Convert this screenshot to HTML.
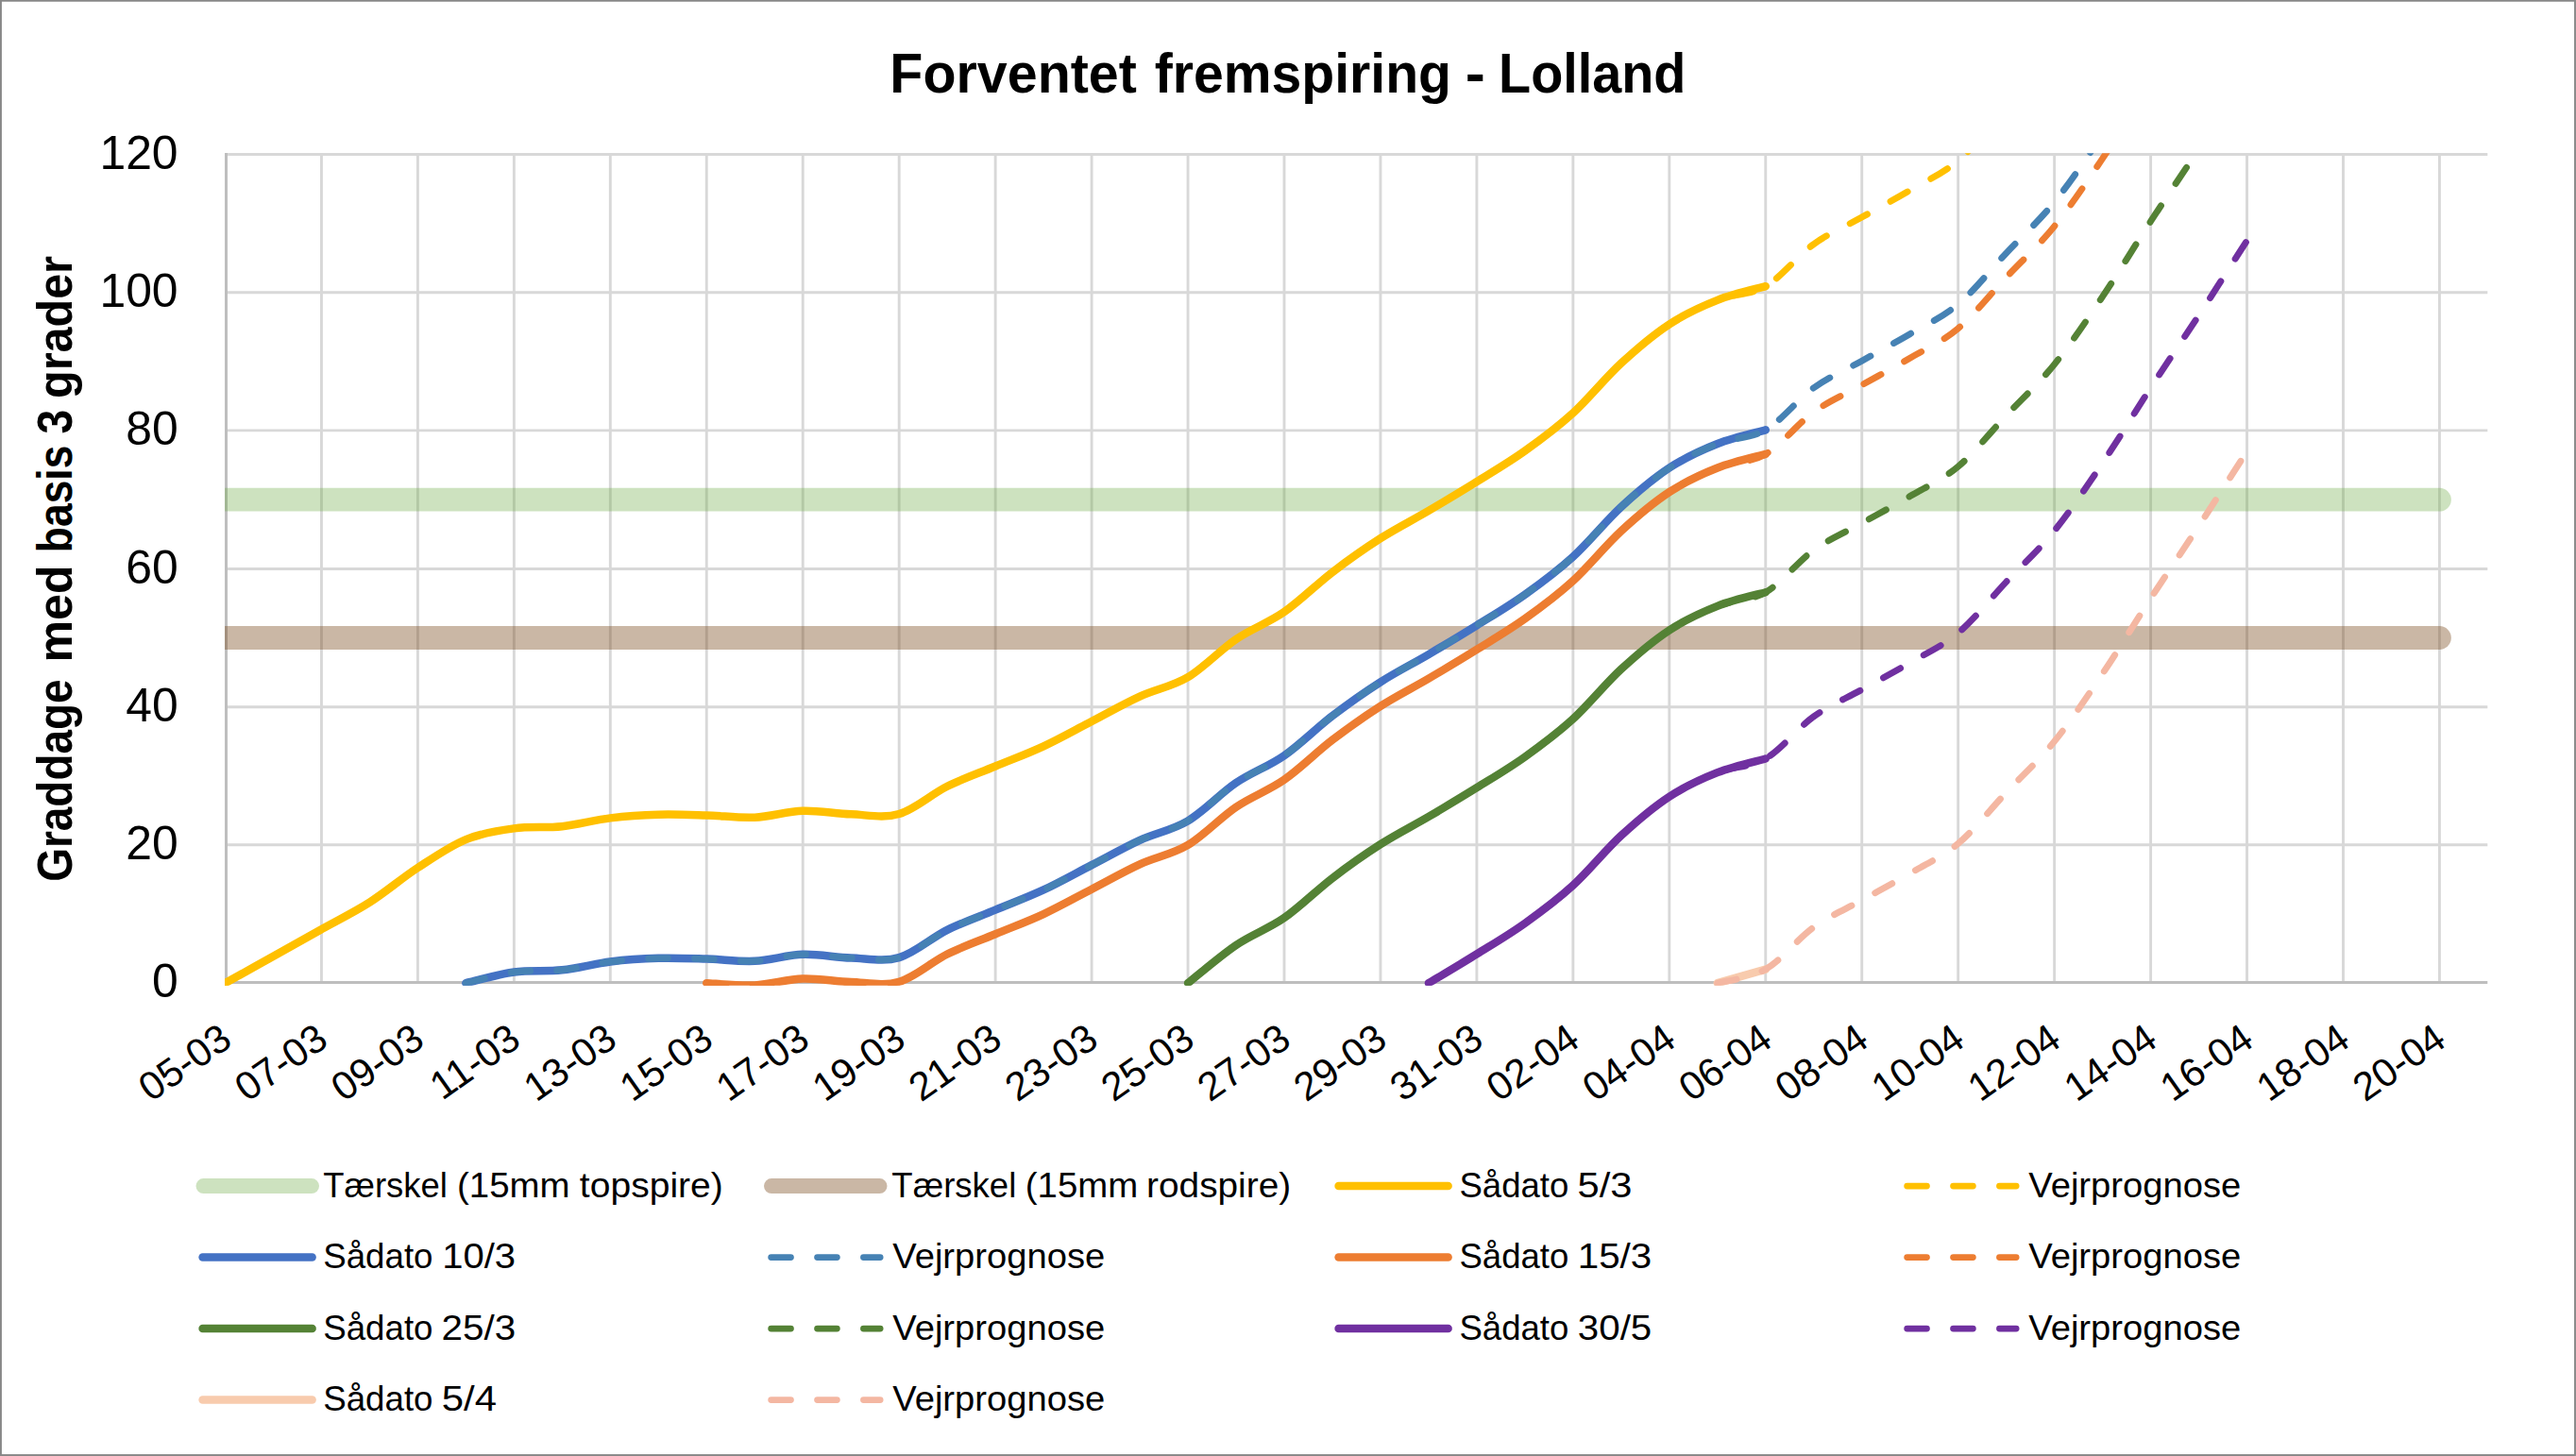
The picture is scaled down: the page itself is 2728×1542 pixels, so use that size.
<!DOCTYPE html>
<html lang="da"><head><meta charset="utf-8"><title>Forventet fremspiring - Lolland</title>
<style>html,body{margin:0;padding:0;background:#fff;}body{width:2728px;height:1542px;overflow:hidden;}svg{display:block;}text{font-family:"Liberation Sans",sans-serif;fill:#000;}</style></head><body>
<svg xmlns="http://www.w3.org/2000/svg" width="2728" height="1542" viewBox="0 0 2728 1542">
<rect x="0" y="0" width="2728" height="1542" fill="#fff"/>
<rect x="0.95" y="0.8" width="2726.05" height="1540.25" fill="none" stroke="#878787" stroke-width="1.9"/>
<defs><clipPath id="pc"><rect x="238.00" y="162.30" width="2402.00" height="881.50"/></clipPath></defs>
<path d="M238.05,163.50H2634.30M238.05,309.75H2634.30M238.05,455.90H2634.30M238.05,602.50H2634.30M238.05,748.80H2634.30M238.05,894.80H2634.30M340.45,162.05V1040.50M442.41,162.05V1040.50M544.36,162.05V1040.50M646.32,162.05V1040.50M748.27,162.05V1040.50M850.22,162.05V1040.50M952.18,162.05V1040.50M1054.13,162.05V1040.50M1156.09,162.05V1040.50M1258.04,162.05V1040.50M1359.99,162.05V1040.50M1461.95,162.05V1040.50M1563.90,162.05V1040.50M1665.86,162.05V1040.50M1767.81,162.05V1040.50M1869.76,162.05V1040.50M1971.72,162.05V1040.50M2073.67,162.05V1040.50M2175.63,162.05V1040.50M2277.58,162.05V1040.50M2379.53,162.05V1040.50M2481.49,162.05V1040.50M2583.44,162.05V1040.50" fill="none" stroke="#D8D8D8" stroke-width="2.9"/>
<path d="M239.50,162.05V1042.00M238.00,1040.50H2634.30" fill="none" stroke="#BEBEBE" stroke-width="3"/>
<g clip-path="url(#pc)" fill="none" stroke-linecap="round" stroke-linejoin="round">
<path d="M238.50,529.21H2583.44" stroke="#70AD47" stroke-opacity="0.35" stroke-width="24.8"/>
<path d="M238.50,675.49H2583.44" stroke="#7B4A1E" stroke-opacity="0.4" stroke-width="24.8"/>
<path d="M238.50,1041.20C247.00,1036.45 272.48,1022.18 289.48,1012.67C306.47,1003.17 323.46,993.66 340.45,984.15C357.45,974.64 374.44,966.47 391.43,955.62C408.42,944.77 425.42,930.15 442.41,919.05C459.40,907.96 476.39,896.01 493.38,889.06C510.38,882.12 527.37,879.68 544.36,877.36C561.35,875.05 578.35,877.00 595.34,875.17C612.33,873.34 629.32,868.46 646.32,866.39C663.31,864.32 680.30,863.22 697.29,862.73C714.29,862.25 731.28,862.98 748.27,863.46C765.26,863.95 782.25,866.45 799.25,865.66C816.24,864.87 833.23,859.26 850.22,858.71C867.22,858.16 884.21,861.82 901.20,862.37C918.19,862.92 935.19,866.94 952.18,862.00C969.17,857.07 986.16,841.16 1003.15,832.75C1020.15,824.33 1037.14,818.60 1054.13,811.53C1071.12,804.46 1088.12,798.25 1105.11,790.32C1122.10,782.40 1139.09,772.77 1156.09,763.99C1173.08,755.21 1190.07,745.46 1207.06,737.66C1224.06,729.86 1241.05,727.30 1258.04,717.18C1275.03,707.06 1292.02,688.47 1309.02,676.95C1326.01,665.43 1343.00,659.89 1359.99,648.06C1376.99,636.24 1393.98,618.99 1410.97,606.01C1427.96,593.02 1444.96,581.01 1461.95,570.17C1478.94,559.32 1495.93,550.90 1512.92,540.91C1529.92,530.91 1546.91,520.75 1563.90,510.19C1580.89,499.63 1597.89,489.70 1614.88,477.57C1631.87,465.44 1648.86,452.89 1665.86,437.41C1682.85,421.93 1699.84,400.34 1716.83,384.68C1733.83,369.01 1750.82,354.57 1767.81,343.43C1784.80,332.28 1801.79,324.53 1818.79,317.83C1835.78,311.12 1861.27,305.64 1869.76,303.20" stroke="#FFC000" stroke-width="8.5"/>
<path d="M238.50,1041.20C247.00,1036.45 272.48,1022.18 289.48,1012.67C306.47,1003.17 323.46,993.66 340.45,984.15C357.45,974.64 374.44,966.47 391.43,955.62C408.42,944.77 425.42,930.15 442.41,919.05C459.40,907.96 476.39,896.01 493.38,889.06C510.38,882.12 527.37,879.68 544.36,877.36C561.35,875.05 578.35,877.00 595.34,875.17C612.33,873.34 629.32,868.46 646.32,866.39C663.31,864.32 680.30,863.22 697.29,862.73C714.29,862.25 731.28,862.98 748.27,863.46C765.26,863.95 782.25,866.45 799.25,865.66C816.24,864.87 833.23,859.26 850.22,858.71C867.22,858.16 884.21,861.82 901.20,862.37C918.19,862.92 935.19,866.94 952.18,862.00C969.17,857.07 986.16,841.16 1003.15,832.75C1020.15,824.33 1037.14,818.60 1054.13,811.53C1071.12,804.46 1088.12,798.25 1105.11,790.32C1122.10,782.40 1139.09,772.77 1156.09,763.99C1173.08,755.21 1190.07,745.46 1207.06,737.66C1224.06,729.86 1241.05,727.30 1258.04,717.18C1275.03,707.06 1292.02,688.47 1309.02,676.95C1326.01,665.43 1343.00,659.89 1359.99,648.06C1376.99,636.24 1393.98,618.99 1410.97,606.01C1427.96,593.02 1444.96,581.01 1461.95,570.17C1478.94,559.32 1495.93,550.90 1512.92,540.91C1529.92,530.91 1546.91,520.75 1563.90,510.19C1580.89,499.63 1597.89,489.70 1614.88,477.57C1631.87,465.44 1648.86,452.89 1665.86,437.41C1682.85,421.93 1699.84,400.34 1716.83,384.68C1733.83,369.01 1750.82,354.57 1767.81,343.43C1784.80,332.28 1801.79,324.53 1818.79,317.83C1835.78,311.12 1852.77,313.07 1869.76,303.20C1886.76,293.32 1903.75,270.77 1920.74,258.58C1937.73,246.39 1954.73,239.56 1971.72,230.06C1988.71,220.55 2005.70,211.53 2022.69,201.53C2039.69,191.53 2056.68,184.34 2073.67,170.08C2090.66,155.82 2107.66,134.00 2124.65,115.95C2141.64,97.91 2158.63,82.80 2175.63,61.83C2192.62,40.86 2209.61,15.38 2226.60,-9.85C2243.60,-35.08 2260.59,-63.49 2277.58,-89.58C2294.57,-115.66 2311.56,-140.41 2328.56,-166.37C2345.55,-192.34 2371.04,-232.20 2379.53,-245.37" stroke="#FFC000" stroke-width="6.9" stroke-dasharray="20.7 28.2" stroke-dashoffset="0"/>
<path d="M493.38,1041.20C501.88,1039.25 527.37,1031.81 544.36,1029.50C561.35,1027.18 578.35,1029.13 595.34,1027.30C612.33,1025.47 629.32,1020.60 646.32,1018.53C663.31,1016.45 680.30,1015.36 697.29,1014.87C714.29,1014.38 731.28,1015.11 748.27,1015.60C765.26,1016.09 782.25,1018.59 799.25,1017.79C816.24,1017.00 833.23,1011.39 850.22,1010.85C867.22,1010.30 884.21,1013.95 901.20,1014.50C918.19,1015.05 935.19,1019.07 952.18,1014.14C969.17,1009.20 986.16,993.29 1003.15,984.88C1020.15,976.47 1037.14,970.74 1054.13,963.67C1071.12,956.60 1088.12,950.38 1105.11,942.46C1122.10,934.53 1139.09,924.90 1156.09,916.13C1173.08,907.35 1190.07,897.60 1207.06,889.80C1224.06,881.99 1241.05,879.43 1258.04,869.32C1275.03,859.20 1292.02,840.61 1309.02,829.09C1326.01,817.57 1343.00,812.02 1359.99,800.20C1376.99,788.37 1393.98,771.12 1410.97,758.14C1427.96,745.16 1444.96,733.15 1461.95,722.30C1478.94,711.45 1495.93,703.04 1512.92,693.04C1529.92,683.05 1546.91,672.88 1563.90,662.32C1580.89,651.77 1597.89,641.83 1614.88,629.70C1631.87,617.57 1648.86,605.03 1665.86,589.55C1682.85,574.07 1699.84,552.48 1716.83,536.81C1733.83,521.15 1750.82,506.70 1767.81,495.56C1784.80,484.42 1801.79,476.67 1818.79,469.96C1835.78,463.26 1861.27,457.77 1869.76,455.33" stroke="#4472C4" stroke-width="8.5"/>
<path d="M493.38,1041.20C501.88,1039.25 527.37,1031.81 544.36,1029.50C561.35,1027.18 578.35,1029.13 595.34,1027.30C612.33,1025.47 629.32,1020.60 646.32,1018.53C663.31,1016.45 680.30,1015.36 697.29,1014.87C714.29,1014.38 731.28,1015.11 748.27,1015.60C765.26,1016.09 782.25,1018.59 799.25,1017.79C816.24,1017.00 833.23,1011.39 850.22,1010.85C867.22,1010.30 884.21,1013.95 901.20,1014.50C918.19,1015.05 935.19,1019.07 952.18,1014.14C969.17,1009.20 986.16,993.29 1003.15,984.88C1020.15,976.47 1037.14,970.74 1054.13,963.67C1071.12,956.60 1088.12,950.38 1105.11,942.46C1122.10,934.53 1139.09,924.90 1156.09,916.13C1173.08,907.35 1190.07,897.60 1207.06,889.80C1224.06,881.99 1241.05,879.43 1258.04,869.32C1275.03,859.20 1292.02,840.61 1309.02,829.09C1326.01,817.57 1343.00,812.02 1359.99,800.20C1376.99,788.37 1393.98,771.12 1410.97,758.14C1427.96,745.16 1444.96,733.15 1461.95,722.30C1478.94,711.45 1495.93,703.04 1512.92,693.04C1529.92,683.05 1546.91,672.88 1563.90,662.32C1580.89,651.77 1597.89,641.83 1614.88,629.70C1631.87,617.57 1648.86,605.03 1665.86,589.55C1682.85,574.07 1699.84,552.48 1716.83,536.81C1733.83,521.15 1750.82,506.70 1767.81,495.56C1784.80,484.42 1801.79,476.67 1818.79,469.96C1835.78,463.26 1852.77,465.21 1869.76,455.33C1886.76,445.46 1903.75,422.91 1920.74,410.72C1937.73,398.53 1954.73,391.70 1971.72,382.19C1988.71,372.68 2005.70,363.66 2022.69,353.67C2039.69,343.67 2056.68,336.48 2073.67,322.21C2090.66,307.95 2107.66,286.13 2124.65,268.09C2141.64,250.05 2158.63,234.93 2175.63,213.96C2192.62,193.00 2209.61,167.52 2226.60,142.28C2243.60,117.05 2260.59,88.65 2277.58,62.56C2294.57,36.47 2311.56,11.73 2328.56,-14.24C2345.55,-40.20 2371.04,-80.07 2379.53,-93.23" stroke="#4682B4" stroke-width="6.9" stroke-dasharray="20.7 28.2" stroke-dashoffset="0"/>
<path d="M748.27,1041.20C756.77,1041.57 782.25,1044.19 799.25,1043.39C816.24,1042.60 833.23,1036.99 850.22,1036.45C867.22,1035.90 884.21,1039.55 901.20,1040.10C918.19,1040.65 935.19,1044.67 952.18,1039.74C969.17,1034.80 986.16,1018.89 1003.15,1010.48C1020.15,1002.07 1037.14,996.34 1054.13,989.27C1071.12,982.20 1088.12,975.98 1105.11,968.06C1122.10,960.13 1139.09,950.50 1156.09,941.73C1173.08,932.95 1190.07,923.20 1207.06,915.40C1224.06,907.59 1241.05,905.03 1258.04,894.92C1275.03,884.80 1292.02,866.21 1309.02,854.69C1326.01,843.17 1343.00,837.62 1359.99,825.80C1376.99,813.97 1393.98,796.72 1410.97,783.74C1427.96,770.76 1444.96,758.75 1461.95,747.90C1478.94,737.05 1495.93,728.64 1512.92,718.64C1529.92,708.65 1546.91,698.48 1563.90,687.92C1580.89,677.37 1597.89,667.43 1614.88,655.30C1631.87,643.17 1648.86,630.63 1665.86,615.15C1682.85,599.67 1699.84,578.08 1716.83,562.41C1733.83,546.75 1750.82,532.30 1767.81,521.16C1784.80,510.02 1801.79,502.27 1818.79,495.56C1835.78,488.86 1861.27,483.37 1869.76,480.93" stroke="#ED7D31" stroke-width="8.5"/>
<path d="M748.27,1041.20C756.77,1041.57 782.25,1044.19 799.25,1043.39C816.24,1042.60 833.23,1036.99 850.22,1036.45C867.22,1035.90 884.21,1039.55 901.20,1040.10C918.19,1040.65 935.19,1044.67 952.18,1039.74C969.17,1034.80 986.16,1018.89 1003.15,1010.48C1020.15,1002.07 1037.14,996.34 1054.13,989.27C1071.12,982.20 1088.12,975.98 1105.11,968.06C1122.10,960.13 1139.09,950.50 1156.09,941.73C1173.08,932.95 1190.07,923.20 1207.06,915.40C1224.06,907.59 1241.05,905.03 1258.04,894.92C1275.03,884.80 1292.02,866.21 1309.02,854.69C1326.01,843.17 1343.00,837.62 1359.99,825.80C1376.99,813.97 1393.98,796.72 1410.97,783.74C1427.96,770.76 1444.96,758.75 1461.95,747.90C1478.94,737.05 1495.93,728.64 1512.92,718.64C1529.92,708.65 1546.91,698.48 1563.90,687.92C1580.89,677.37 1597.89,667.43 1614.88,655.30C1631.87,643.17 1648.86,630.63 1665.86,615.15C1682.85,599.67 1699.84,578.08 1716.83,562.41C1733.83,546.75 1750.82,532.30 1767.81,521.16C1784.80,510.02 1801.79,502.27 1818.79,495.56C1835.78,488.86 1852.77,490.81 1869.76,480.93C1886.76,471.06 1903.75,448.51 1920.74,436.32C1937.73,424.13 1954.73,417.30 1971.72,407.79C1988.71,398.28 2005.70,389.26 2022.69,379.26C2039.69,369.27 2056.68,362.08 2073.67,347.81C2090.66,333.55 2107.66,311.73 2124.65,293.69C2141.64,275.65 2158.63,260.53 2175.63,239.56C2192.62,218.60 2209.61,193.12 2226.60,167.88C2243.60,142.65 2260.59,114.25 2277.58,88.16C2294.57,62.07 2311.56,37.33 2328.56,11.36C2345.55,-14.60 2371.04,-54.47 2379.53,-67.63" stroke="#ED7D31" stroke-width="6.9" stroke-dasharray="20.7 28.2" stroke-dashoffset="0"/>
<path d="M1258.04,1041.20C1266.54,1034.50 1292.02,1012.49 1309.02,1000.97C1326.01,989.45 1343.00,983.91 1359.99,972.08C1376.99,960.26 1393.98,943.01 1410.97,930.02C1427.96,917.04 1444.96,905.03 1461.95,894.18C1478.94,883.34 1495.93,874.92 1512.92,864.93C1529.92,854.93 1546.91,844.76 1563.90,834.21C1580.89,823.65 1597.89,813.72 1614.88,801.59C1631.87,789.46 1648.86,776.91 1665.86,761.43C1682.85,745.95 1699.84,724.36 1716.83,708.70C1733.83,693.03 1750.82,678.59 1767.81,667.44C1784.80,656.30 1801.79,648.55 1818.79,641.84C1835.78,635.14 1861.27,629.65 1869.76,627.22" stroke="#548235" stroke-width="8.5"/>
<path d="M1258.04,1041.20C1266.54,1034.50 1292.02,1012.49 1309.02,1000.97C1326.01,989.45 1343.00,983.91 1359.99,972.08C1376.99,960.26 1393.98,943.01 1410.97,930.02C1427.96,917.04 1444.96,905.03 1461.95,894.18C1478.94,883.34 1495.93,874.92 1512.92,864.93C1529.92,854.93 1546.91,844.76 1563.90,834.21C1580.89,823.65 1597.89,813.72 1614.88,801.59C1631.87,789.46 1648.86,776.91 1665.86,761.43C1682.85,745.95 1699.84,724.36 1716.83,708.70C1733.83,693.03 1750.82,678.59 1767.81,667.44C1784.80,656.30 1801.79,648.55 1818.79,641.84C1835.78,635.14 1852.77,637.09 1869.76,627.22C1886.76,617.34 1903.75,594.79 1920.74,582.60C1937.73,570.41 1954.73,563.58 1971.72,554.07C1988.71,544.57 2005.70,535.54 2022.69,525.55C2039.69,515.55 2056.68,508.36 2073.67,494.10C2090.66,479.84 2107.66,458.01 2124.65,439.97C2141.64,421.93 2158.63,406.82 2175.63,385.85C2192.62,364.88 2209.61,339.40 2226.60,314.17C2243.60,288.93 2260.59,260.53 2277.58,234.44C2294.57,208.36 2311.56,183.61 2328.56,157.64C2345.55,131.68 2371.04,91.82 2379.53,78.65" stroke="#548235" stroke-width="6.9" stroke-dasharray="20.7 28.2" stroke-dashoffset="0"/>
<path d="M1512.92,1041.20C1521.42,1036.08 1546.91,1021.04 1563.90,1010.48C1580.89,999.92 1597.89,989.99 1614.88,977.86C1631.87,965.73 1648.86,953.19 1665.86,937.70C1682.85,922.22 1699.84,900.63 1716.83,884.97C1733.83,869.30 1750.82,854.86 1767.81,843.72C1784.80,832.57 1801.79,824.82 1818.79,818.12C1835.78,811.41 1861.27,805.93 1869.76,803.49" stroke="#7030A0" stroke-width="8.5"/>
<path d="M1512.92,1041.20C1521.42,1036.08 1546.91,1021.04 1563.90,1010.48C1580.89,999.92 1597.89,989.99 1614.88,977.86C1631.87,965.73 1648.86,953.19 1665.86,937.70C1682.85,922.22 1699.84,900.63 1716.83,884.97C1733.83,869.30 1750.82,854.86 1767.81,843.72C1784.80,832.57 1801.79,824.82 1818.79,818.12C1835.78,811.41 1852.77,813.36 1869.76,803.49C1886.76,793.61 1903.75,771.06 1920.74,758.87C1937.73,746.68 1954.73,739.85 1971.72,730.35C1988.71,720.84 2005.70,711.82 2022.69,701.82C2039.69,691.83 2056.68,684.63 2073.67,670.37C2090.66,656.11 2107.66,634.29 2124.65,616.24C2141.64,598.20 2158.63,583.09 2175.63,562.12C2192.62,541.15 2209.61,515.67 2226.60,490.44C2243.60,465.21 2260.59,436.80 2277.58,410.72C2294.57,384.63 2311.56,359.88 2328.56,333.92C2345.55,307.95 2371.04,268.09 2379.53,254.92" stroke="#7030A0" stroke-width="6.9" stroke-dasharray="20.7 28.2" stroke-dashoffset="0"/>
<path d="M1818.79,1041.20C1827.28,1038.76 1861.27,1029.01 1869.76,1026.57" stroke="#F8CBAD" stroke-width="8.5"/>
<path d="M1818.79,1041.20C1827.28,1038.76 1852.77,1036.45 1869.76,1026.57C1886.76,1016.70 1903.75,994.15 1920.74,981.95C1937.73,969.76 1954.73,962.94 1971.72,953.43C1988.71,943.92 2005.70,934.90 2022.69,924.90C2039.69,914.91 2056.68,907.72 2073.67,893.45C2090.66,879.19 2107.66,857.37 2124.65,839.33C2141.64,821.29 2158.63,806.17 2175.63,785.20C2192.62,764.24 2209.61,738.76 2226.60,713.52C2243.60,688.29 2260.59,659.89 2277.58,633.80C2294.57,607.71 2311.56,582.97 2328.56,557.00C2345.55,531.03 2371.04,491.17 2379.53,478.01" stroke="#F4B7A2" stroke-width="6.9" stroke-dasharray="20.7 28.2" stroke-dashoffset="0"/>
</g>
<g aria-label="Forventet fremspiring - Lolland"><text x="942.37" y="98.10" font-size="60" font-weight="bold" textLength="261.46" lengthAdjust="spacingAndGlyphs">Forventet</text><text x="1222.65" y="98.10" font-size="60" font-weight="bold" textLength="314.32" lengthAdjust="spacingAndGlyphs">fremspiring</text><text x="1551.72" y="98.10" font-size="60" font-weight="bold" textLength="21.10" lengthAdjust="spacingAndGlyphs">-</text><text x="1587.08" y="98.10" font-size="60" font-weight="bold" textLength="198.29" lengthAdjust="spacingAndGlyphs">Lolland</text></g>
<g aria-label="Graddage med basis 3 grader"><text transform="translate(76.00,933.79) rotate(-90)" font-size="51.3" font-weight="bold" textLength="214.42" lengthAdjust="spacingAndGlyphs">Graddage</text><text transform="translate(76.00,701.52) rotate(-90)" font-size="51.3" font-weight="bold" textLength="103.02" lengthAdjust="spacingAndGlyphs">med</text><text transform="translate(76.00,585.13) rotate(-90)" font-size="51.3" font-weight="bold" textLength="113.52" lengthAdjust="spacingAndGlyphs">basis</text><text transform="translate(76.00,459.53) rotate(-90)" font-size="51.3" font-weight="bold" textLength="25.73" lengthAdjust="spacingAndGlyphs">3</text><text transform="translate(76.00,421.89) rotate(-90)" font-size="51.3" font-weight="bold" textLength="150.85" lengthAdjust="spacingAndGlyphs">grader</text></g>
<text x="105.43" y="178.60" font-size="49.5" textLength="83.13" lengthAdjust="spacingAndGlyphs">120</text>
<text x="105.43" y="324.85" font-size="49.5" textLength="83.13" lengthAdjust="spacingAndGlyphs">100</text>
<text x="133.36" y="471.00" font-size="49.5" textLength="55.42" lengthAdjust="spacingAndGlyphs">80</text>
<text x="133.36" y="617.60" font-size="49.5" textLength="55.42" lengthAdjust="spacingAndGlyphs">60</text>
<text x="133.36" y="763.90" font-size="49.5" textLength="55.42" lengthAdjust="spacingAndGlyphs">40</text>
<text x="133.36" y="909.90" font-size="49.5" textLength="55.42" lengthAdjust="spacingAndGlyphs">20</text>
<text x="161.03" y="1055.90" font-size="49.5" textLength="27.71" lengthAdjust="spacingAndGlyphs">0</text>
<text transform="translate(247.80,1106.20) rotate(-35)" x="0" y="0" text-anchor="end" font-size="42">05-03</text>
<text transform="translate(349.75,1106.20) rotate(-35)" x="0" y="0" text-anchor="end" font-size="42">07-03</text>
<text transform="translate(451.71,1106.20) rotate(-35)" x="0" y="0" text-anchor="end" font-size="42">09-03</text>
<text transform="translate(553.66,1106.20) rotate(-35)" x="0" y="0" text-anchor="end" font-size="42">11-03</text>
<text transform="translate(655.62,1106.20) rotate(-35)" x="0" y="0" text-anchor="end" font-size="42">13-03</text>
<text transform="translate(757.57,1106.20) rotate(-35)" x="0" y="0" text-anchor="end" font-size="42">15-03</text>
<text transform="translate(859.52,1106.20) rotate(-35)" x="0" y="0" text-anchor="end" font-size="42">17-03</text>
<text transform="translate(961.48,1106.20) rotate(-35)" x="0" y="0" text-anchor="end" font-size="42">19-03</text>
<text transform="translate(1063.43,1106.20) rotate(-35)" x="0" y="0" text-anchor="end" font-size="42">21-03</text>
<text transform="translate(1165.39,1106.20) rotate(-35)" x="0" y="0" text-anchor="end" font-size="42">23-03</text>
<text transform="translate(1267.34,1106.20) rotate(-35)" x="0" y="0" text-anchor="end" font-size="42">25-03</text>
<text transform="translate(1369.29,1106.20) rotate(-35)" x="0" y="0" text-anchor="end" font-size="42">27-03</text>
<text transform="translate(1471.25,1106.20) rotate(-35)" x="0" y="0" text-anchor="end" font-size="42">29-03</text>
<text transform="translate(1573.20,1106.20) rotate(-35)" x="0" y="0" text-anchor="end" font-size="42">31-03</text>
<text transform="translate(1675.16,1106.20) rotate(-35)" x="0" y="0" text-anchor="end" font-size="42">02-04</text>
<text transform="translate(1777.11,1106.20) rotate(-35)" x="0" y="0" text-anchor="end" font-size="42">04-04</text>
<text transform="translate(1879.06,1106.20) rotate(-35)" x="0" y="0" text-anchor="end" font-size="42">06-04</text>
<text transform="translate(1981.02,1106.20) rotate(-35)" x="0" y="0" text-anchor="end" font-size="42">08-04</text>
<text transform="translate(2082.97,1106.20) rotate(-35)" x="0" y="0" text-anchor="end" font-size="42">10-04</text>
<text transform="translate(2184.93,1106.20) rotate(-35)" x="0" y="0" text-anchor="end" font-size="42">12-04</text>
<text transform="translate(2286.88,1106.20) rotate(-35)" x="0" y="0" text-anchor="end" font-size="42">14-04</text>
<text transform="translate(2388.83,1106.20) rotate(-35)" x="0" y="0" text-anchor="end" font-size="42">16-04</text>
<text transform="translate(2490.79,1106.20) rotate(-35)" x="0" y="0" text-anchor="end" font-size="42">18-04</text>
<text transform="translate(2592.74,1106.20) rotate(-35)" x="0" y="0" text-anchor="end" font-size="42">20-04</text>
<g fill="none" stroke-linecap="round">
<path d="M215.50,1256.10h114.50" stroke="#70AD47" stroke-opacity="0.35" stroke-width="16"/>
<path d="M817.00,1256.10h114.50" stroke="#7B4A1E" stroke-opacity="0.4" stroke-width="16"/>
<path d="M1417.60,1256.10h116.00" stroke="#FFC000" stroke-width="8.5"/>
<path d="M2019.70,1256.10h115.40" stroke="#FFC000" stroke-width="6.9" stroke-dasharray="20.7 28.2"/>
<path d="M214.60,1331.60h116.00" stroke="#4472C4" stroke-width="8.5"/>
<path d="M816.70,1331.60h115.40" stroke="#4682B4" stroke-width="6.9" stroke-dasharray="20.7 28.2"/>
<path d="M1417.60,1331.60h116.00" stroke="#ED7D31" stroke-width="8.5"/>
<path d="M2019.70,1331.60h115.40" stroke="#ED7D31" stroke-width="6.9" stroke-dasharray="20.7 28.2"/>
<path d="M214.60,1407.10h116.00" stroke="#548235" stroke-width="8.5"/>
<path d="M816.70,1407.10h115.40" stroke="#548235" stroke-width="6.9" stroke-dasharray="20.7 28.2"/>
<path d="M1417.60,1407.10h116.00" stroke="#7030A0" stroke-width="8.5"/>
<path d="M2019.70,1407.10h115.40" stroke="#7030A0" stroke-width="6.9" stroke-dasharray="20.7 28.2"/>
<path d="M214.60,1482.60h116.00" stroke="#F8CBAD" stroke-width="8.5"/>
<path d="M816.70,1482.60h115.40" stroke="#F4B7A2" stroke-width="6.9" stroke-dasharray="20.7 28.2"/>
</g>
<g><text x="342.31" y="1267.86" font-size="37.2" textLength="131.59" lengthAdjust="spacingAndGlyphs">Tærskel</text><text x="484.07" y="1267.86" font-size="37.2" textLength="119.56" lengthAdjust="spacingAndGlyphs">(15mm</text><text x="613.88" y="1267.86" font-size="37.2" textLength="151.92" lengthAdjust="spacingAndGlyphs">topspire)</text><text x="944.36" y="1267.86" font-size="37.2" textLength="131.94" lengthAdjust="spacingAndGlyphs">Tærskel</text><text x="1085.78" y="1267.86" font-size="37.2" textLength="119.46" lengthAdjust="spacingAndGlyphs">(15mm</text><text x="1214.09" y="1267.86" font-size="37.2" textLength="153.05" lengthAdjust="spacingAndGlyphs">rodspire)</text><text x="1545.48" y="1267.86" font-size="37.2" textLength="115.82" lengthAdjust="spacingAndGlyphs">Sådato</text><text x="1670.62" y="1267.86" font-size="37.2" textLength="57.89" lengthAdjust="spacingAndGlyphs">5/3</text><text x="2148.34" y="1267.86" font-size="37.2" textLength="224.86" lengthAdjust="spacingAndGlyphs">Vejrprognose</text><text x="342.25" y="1343.30" font-size="37.2" textLength="116.25" lengthAdjust="spacingAndGlyphs">Sådato</text><text x="468.19" y="1343.30" font-size="37.2" textLength="77.87" lengthAdjust="spacingAndGlyphs">10/3</text><text x="945.34" y="1343.30" font-size="37.2" textLength="224.86" lengthAdjust="spacingAndGlyphs">Vejrprognose</text><text x="1545.48" y="1343.30" font-size="37.2" textLength="115.82" lengthAdjust="spacingAndGlyphs">Sådato</text><text x="1670.72" y="1343.30" font-size="37.2" textLength="78.57" lengthAdjust="spacingAndGlyphs">15/3</text><text x="2148.34" y="1343.30" font-size="37.2" textLength="224.86" lengthAdjust="spacingAndGlyphs">Vejrprognose</text><text x="342.25" y="1418.90" font-size="37.2" textLength="116.25" lengthAdjust="spacingAndGlyphs">Sådato</text><text x="467.60" y="1418.90" font-size="37.2" textLength="78.69" lengthAdjust="spacingAndGlyphs">25/3</text><text x="945.34" y="1418.90" font-size="37.2" textLength="224.86" lengthAdjust="spacingAndGlyphs">Vejrprognose</text><text x="1545.48" y="1418.90" font-size="37.2" textLength="115.82" lengthAdjust="spacingAndGlyphs">Sådato</text><text x="1670.88" y="1418.90" font-size="37.2" textLength="78.40" lengthAdjust="spacingAndGlyphs">30/5</text><text x="2148.34" y="1418.90" font-size="37.2" textLength="224.86" lengthAdjust="spacingAndGlyphs">Vejrprognose</text><text x="342.25" y="1494.30" font-size="37.2" textLength="116.25" lengthAdjust="spacingAndGlyphs">Sådato</text><text x="467.81" y="1494.30" font-size="37.2" textLength="58.25" lengthAdjust="spacingAndGlyphs">5/4</text><text x="945.34" y="1494.30" font-size="37.2" textLength="224.86" lengthAdjust="spacingAndGlyphs">Vejrprognose</text></g>
</svg></body></html>
